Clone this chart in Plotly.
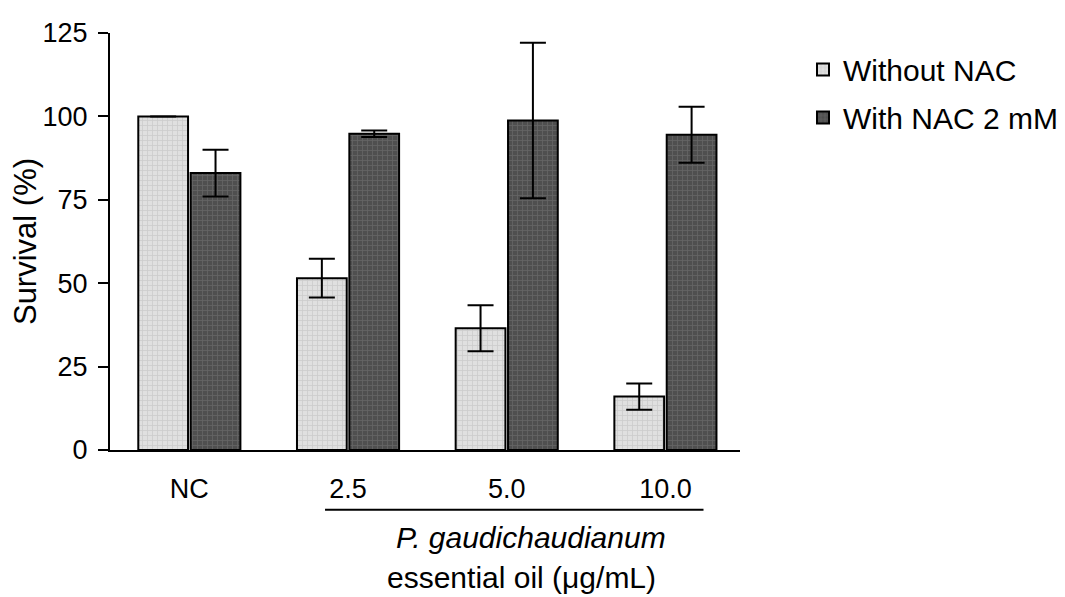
import plotly.graph_objects as go

categories = ["NC", "2.5", "5.0", "10.0"]
without_nac = [100, 51.5, 36.5, 16]
without_nac_err = [0, 5.8, 6.9, 3.9]
with_nac = [83, 94.8, 98.8, 94.5]
with_nac_err = [7.0, 1.0, 23.3, 8.4]
y_ticks = [0, 25, 50, 75, 100, 125]

FONT = "Liberation Sans, Arial, sans-serif"

fig = go.Figure()
fig.add_trace(go.Bar(
    name="Without NAC", x=categories, y=without_nac, legendgroup="a",
    error_y=dict(type="data", array=without_nac_err, color="black", thickness=2, width=13),
    marker=dict(color="#d9d9d9", line=dict(color="black", width=2),
                pattern=dict(shape="+", size=5, solidity=0.3, fgcolor="#b8b8b8", bgcolor="#e0e0e0")),
))
fig.add_trace(go.Bar(
    name="With NAC 2 mM", x=categories, y=with_nac, legendgroup="b",
    error_y=dict(type="data", array=with_nac_err, color="black", thickness=2, width=13),
    marker=dict(color="#555555", line=dict(color="black", width=2),
                pattern=dict(shape="+", size=5, solidity=0.3, fgcolor="#7a7a7a", bgcolor="#4f4f4f")),
))

fig.update_layout(
    width=1065, height=597,
    margin=dict(l=102, r=333, t=25, b=155, autoexpand=False),
    plot_bgcolor="white", paper_bgcolor="white",
    barmode="group", bargap=0.34, bargroupgap=0.05,
    font=dict(family=FONT, color="black", size=27),
    legend=dict(x=1.10, y=0.975, xanchor="left", yanchor="top",
                font=dict(family=FONT, size=30, color="black"),
                tracegroupgap=6),
    showlegend=True,
)
fig.update_xaxes(
    range=[-0.5, 3.47], showline=True, linecolor="black", linewidth=2,
    ticks="", showgrid=False, ticklabelstandoff=14, automargin=False,
    tickfont=dict(family=FONT, size=27),
)
fig.update_yaxes(
    range=[0, 125], tickvals=y_ticks, showline=True, linecolor="black", linewidth=2,
    ticks="outside", ticklen=10, tickwidth=2, tickcolor="black", showgrid=False,
    zeroline=False, tickfont=dict(family=FONT, size=27), ticklabelstandoff=5,
    automargin=False,
    title=dict(text="Survival (%)", font=dict(family=FONT, size=31), standoff=2),
)

# bracket line under the essential-oil concentrations
fig.add_shape(type="line", xref="x", yref="paper", x0=0.855, x1=3.24, y0=-0.143, y1=-0.143,
              line=dict(color="black", width=2))
fig.add_annotation(text="<i>P. gaudichaudianum</i>", xref="x", yref="paper", x=2.15, y=-0.21,
                   showarrow=False, yanchor="middle", font=dict(family=FONT, size=30))
fig.add_annotation(text="essential oil (μg/mL)", xref="x", yref="paper", x=2.095, y=-0.305,
                   showarrow=False, yanchor="middle", font=dict(family=FONT, size=30))

fig.write_html("out.html")
